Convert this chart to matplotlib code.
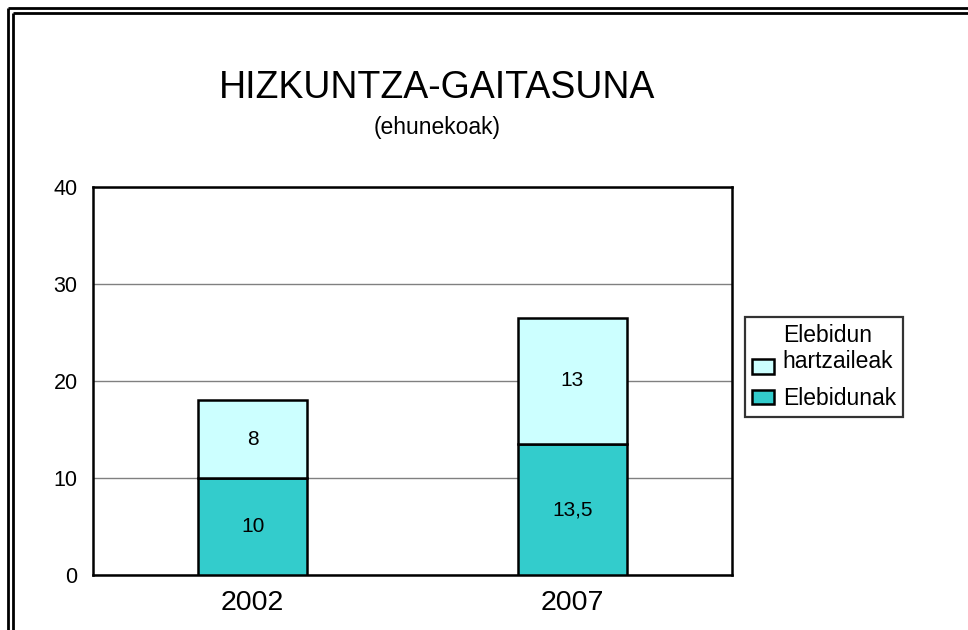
import matplotlib.pyplot as plt
from matplotlib.lines import Line2D
from matplotlib.patches import Patch, Rectangle
from matplotlib.legend_handler import HandlerPatch

plt.rcParams['font.family'] = ['Liberation Sans', 'DejaVu Sans']

years = ["2002", "2007"]
elebidunak = [10, 13.5]
hartzaileak = [8, 13]
elebidunak_labels = ["10", "13,5"]
hartzaileak_labels = ["8", "13"]

COLOR_BOTTOM = "#33CCCC"
COLOR_TOP = "#CCFFFF"

W, H = 968, 630
fig = plt.figure(figsize=(W / 100, H / 100), dpi=100)

# double frame at top/left edges of the picture
for off in (8, 13):
    fig.add_artist(Line2D([off / W, off / W], [0, 1 - off / H], transform=fig.transFigure,
                          color="black", lw=2.0, solid_capstyle="butt"))
    fig.add_artist(Line2D([off / W, 1], [1 - off / H, 1 - off / H], transform=fig.transFigure,
                          color="black", lw=2.0, solid_capstyle="butt"))

ax = fig.add_axes([93 / W, (H - 575) / H, (732 - 93) / W, (575 - 187) / H])

x = range(len(years))
width = 0.34
ax.bar(x, elebidunak, width, color=COLOR_BOTTOM, edgecolor="black", linewidth=1.8,
       zorder=3)
ax.bar(x, hartzaileak, width, bottom=elebidunak, color=COLOR_TOP, edgecolor="black",
       linewidth=1.8, zorder=3)

for i in x:
    ax.text(i, elebidunak[i] / 2, elebidunak_labels[i], ha="center", va="center",
            fontsize=15, zorder=4)
    ax.text(i, elebidunak[i] + hartzaileak[i] / 2, hartzaileak_labels[i], ha="center",
            va="center", fontsize=15, zorder=4)

ax.set_xlim(-0.5, 1.5)
ax.set_ylim(0, 40)
ax.set_yticks([0, 10, 20, 30, 40])
ax.set_xticks(list(x))
ax.set_xticklabels(years)
ax.tick_params(axis="y", length=0, labelsize=15.5, pad=11)
ax.tick_params(axis="x", length=0, labelsize=20.5, pad=11)
ax.yaxis.grid(True, color="#808080", linewidth=1, zorder=0)
for s in ax.spines.values():
    s.set_linewidth(1.8)

fig.text(437 / W, 1 - 88 / H, "HIZKUNTZA-GAITASUNA", ha="center", va="center", fontsize=27)
fig.text(437 / W, 1 - 128 / H, "(ehunekoak)", ha="center", va="center", fontsize=16.5)


# the two-line entry has its box next to the second line
def low_patch(legend, orig_handle, xdescent, ydescent, width, height, fontsize):
    return Rectangle((-xdescent, -ydescent - 12), width, height)


top_handle = Patch(facecolor=COLOR_TOP, edgecolor="black", linewidth=1.8)
bottom_handle = Patch(facecolor=COLOR_BOTTOM, edgecolor="black", linewidth=1.8)
leg = fig.legend([top_handle, bottom_handle], ["Elebidun\nhartzaileak", "Elebidunak"],
                 handler_map={top_handle: HandlerPatch(patch_func=low_patch)},
                 loc="upper left", bbox_to_anchor=(745 / W, 1 - 317 / H),
                 fontsize=16.5, frameon=True, fancybox=False, borderaxespad=0,
                 handlelength=0.95, handleheight=0.6, handletextpad=0.4,
                 labelspacing=0.6, borderpad=0.3)
leg.get_frame().set_edgecolor("black")
leg.get_frame().set_linewidth(1.6)

fig.savefig("out.png", dpi=100)
